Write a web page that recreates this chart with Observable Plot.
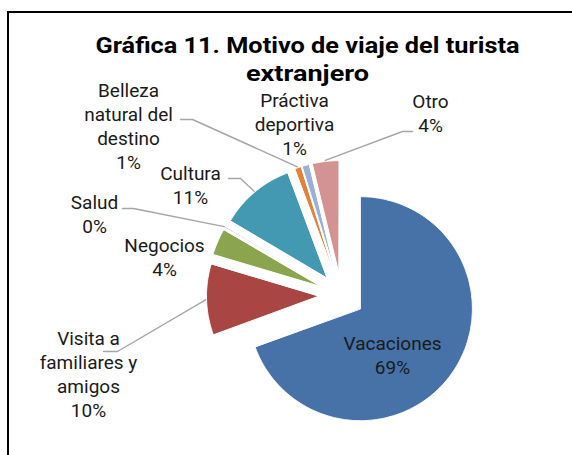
<!DOCTYPE html>
<html><head><meta charset="utf-8">
<script src="https://cdn.jsdelivr.net/npm/d3@7"></script>
<script src="https://cdn.jsdelivr.net/npm/@observablehq/plot@0.6"></script>
<style>
html,body{margin:0;padding:0;background:#fff;overflow:hidden;width:572px;height:455px}
#chart{position:absolute;left:0;top:0}
#frame{position:absolute;left:7px;top:11px;width:700px;height:600px;border:2px solid #000;box-sizing:border-box;pointer-events:none}
</style></head>
<body>
<div id="chart"></div>
<div id="frame"></div>
<script>
// ---- data ----
const categories = ["Vacaciones","Visita a familiares y amigos","Negocios","Salud","Cultura","Belleza natural del destino","Práctiva deportiva","Otro"];
const values = [69.4, 10.2, 3.8, 0.1, 10.8, 0.9, 1.0, 3.8];
const labelText = ["Vacaciones","Visita a\nfamiliares y\namigos","Negocios","Salud","Cultura","Belleza\nnatural del\ndestino","Práctiva\ndeportiva","Otro"];
const colors = ["#4672A8","#A94644","#8AA54E","#7F63A0","#4399B1","#E0823A","#9AB0D8","#D29392"];
const titleLines = ["Gráfica 11. Motivo de viaje del turista","extranjero"];

// ---- layout ----
const W = 572, H = 455;
const center = [341, 295], radius = 112, explode = 23;
const labelPos = [[392,349],[88,344],[164,251],[94,208],[190,179],[128,96],[294,106],[430,107]];
const leaders = [null,[103,351,117],null,[122,208,133],[228,178,240],[180,119,192],null,[412,131,402]];
const lineStep = 24, fontSize = 19;
const titlePos = [[307,52],[307,80]], titleWidths = [424,123];

// ---- geometry from data ----
const arcs = d3.pie().sort(null).value(d => d)(values);
const slicePts = [], leaderPts = [], labelRows = [];
arcs.forEach((a, i) => {
  const cat = categories[i];
  const mid = (a.startAngle + a.endAngle) / 2;
  const cx = center[0] + explode * Math.sin(mid), cy = center[1] - explode * Math.cos(mid);
  slicePts.push({cat, x: cx, y: cy});
  const n = Math.max(2, Math.ceil((a.endAngle - a.startAngle) / 0.01));
  for (let k = 0; k <= n; k++) {
    const t = a.startAngle + (a.endAngle - a.startAngle) * k / n;
    slicePts.push({cat, x: cx + radius * Math.sin(t), y: cy - radius * Math.cos(t)});
  }
  const L = leaders[i];
  if (L) {
    leaderPts.push({cat, x: L[0], y: L[1]});
    leaderPts.push({cat, x: L[2], y: L[1]});
    leaderPts.push({cat, x: cx + (radius + 1) * Math.sin(mid), y: cy - (radius + 1) * Math.cos(mid)});
  }
  const lines = labelText[i].split("\n").concat([Math.round(values[i]) + "%"]);
  lines.forEach((t, j) => labelRows.push({x: labelPos[i][0], y: labelPos[i][1] + j * lineStep, text: t}));
});
const titleRows = titleLines.map((t, i) => ({x: titlePos[i][0], y: titlePos[i][1], text: t}));

const chart = Plot.plot({
  width: W, height: H,
  margin: 0,
  style: {background: "transparent", overflow: "visible"},
  x: {domain: [0, W], range: [0, W], axis: null},
  y: {domain: [0, H], range: [0, H], axis: null},
  color: {domain: categories, range: colors},
  marks: [
    Plot.line(slicePts, {x: "x", y: "y", z: "cat", fill: "cat", stroke: "white", strokeWidth: 1, curve: "linear-closed"}),
    Plot.line(leaderPts, {x: "x", y: "y", z: "cat", stroke: "#A6A6A6", strokeWidth: 1.4}),
    Plot.text(labelRows, {x: "x", y: "y", text: "text", fontSize, fontFamily: "Roboto", fill: "#1a1a1a", lineAnchor: "bottom", textAnchor: "middle"}),
    Plot.text(titleRows, {x: "x", y: "y", text: "text", fontSize: 22, fontWeight: "bold", fontFamily: "Roboto", fill: "#000", lineAnchor: "bottom", textAnchor: "middle"})
  ]
});
document.getElementById("chart").appendChild(chart);
chart.querySelectorAll("text").forEach(el => {
  const idx = titleLines.indexOf(el.textContent);
  if (idx >= 0) { el.setAttribute("textLength", titleWidths[idx]); el.setAttribute("lengthAdjust", "spacingAndGlyphs"); }
});
</script>
</body></html>
